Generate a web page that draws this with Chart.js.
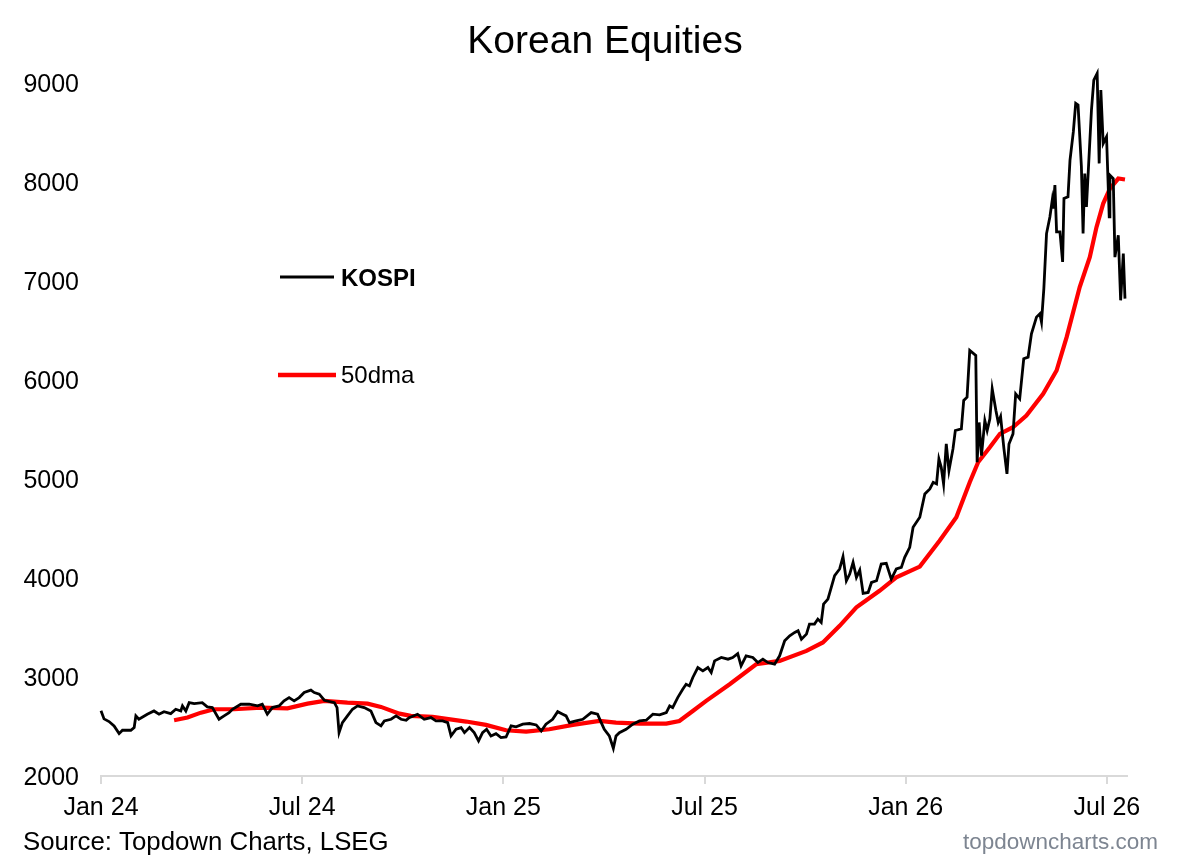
<!DOCTYPE html>
<html>
<head>
<meta charset="utf-8">
<title>Korean Equities</title>
<script src="https://cdn.jsdelivr.net/npm/chart.js@4.4.1/dist/chart.umd.min.js"></script>
<style>
	html, body { margin: 0; padding: 0; background: #ffffff; }
	#wrap { width: 1185px; height: 862px; }
</style>
</head>
<body>
<div id="wrap"><canvas id="kospi_chart" width="1185" height="862"></canvas></div>
<script>
// x = months since Jan 2024
var tickMonths = [0, 6, 12, 18, 24, 30];
var tickLabels = ['Jan 24', 'Jul 24', 'Jan 25', 'Jul 25', 'Jan 26', 'Jul 26'];
var yTicks = [2000, 3000, 4000, 5000, 6000, 7000, 8000, 9000];

var kospiMonth = [
	0, 0.09, 0.24, 0.39, 0.54, 0.64, 0.89, 0.99, 1.04, 1.13, 1.38, 1.58, 1.73, 1.88, 2.08, 2.23, 2.38, 2.43, 2.53, 2.63,
	2.78, 3.02, 3.17, 3.32, 3.52, 3.67, 3.82, 3.92, 4.17, 4.42, 4.67, 4.81, 4.96, 5.11, 5.31, 5.46, 5.61, 5.76, 5.91, 6.06,
	6.26, 6.36, 6.51, 6.66, 6.96, 7.04, 7.10, 7.20, 7.35, 7.50, 7.65, 7.85, 8.05, 8.20, 8.35, 8.45, 8.65, 8.80, 8.95, 9.10,
	9.19, 9.44, 9.64, 9.84, 9.99, 10.19, 10.34, 10.44, 10.59, 10.74, 10.84, 10.99, 11.13, 11.26, 11.38, 11.50, 11.63, 11.78, 11.93, 12.08,
	12.23, 12.38, 12.58, 12.78, 12.98, 13.13, 13.27, 13.47, 13.62, 13.77, 13.87, 13.97, 14.17, 14.37, 14.62, 14.81, 14.92, 15.01, 15.16, 15.28,
	15.36, 15.46, 15.66, 15.86, 16.06, 16.26, 16.46, 16.66, 16.86, 16.96, 17.05, 17.20, 17.35, 17.45, 17.55, 17.65, 17.80, 17.95, 18.10, 18.20,
	18.30, 18.50, 18.70, 18.84, 18.99, 19.09, 19.24, 19.44, 19.59, 19.74, 19.89, 20.09, 20.24, 20.39, 20.54, 20.69, 20.79, 20.89, 21.04, 21.13,
	21.28, 21.38, 21.48, 21.55, 21.68, 21.78, 21.88, 22.03, 22.13, 22.23, 22.33, 22.43, 22.53, 22.63, 22.73, 22.88, 22.98, 23.13, 23.27, 23.42,
	23.57, 23.72, 23.87, 23.97, 24.12, 24.22, 24.42, 24.57, 24.72, 24.82, 24.92, 24.99, 25.06, 25.13, 25.21, 25.29, 25.41, 25.48, 25.66, 25.73,
	25.83, 25.91, 26.09, 26.13, 26.19, 26.26, 26.36, 26.43, 26.51, 26.58, 26.69, 26.76, 26.83, 26.93, 27.02, 27.08, 27.20, 27.28, 27.40, 27.52,
	27.65, 27.75, 27.90, 28.00, 28.05, 28.12, 28.20, 28.30, 28.37, 28.40, 28.45, 28.50, 28.60, 28.68, 28.72, 28.84, 28.90, 29.00, 29.07, 29.14,
	29.24, 29.29, 29.34, 29.39, 29.54, 29.61, 29.71, 29.77, 29.82, 29.89, 29.99, 30.07, 30.09, 30.19, 30.24, 30.34, 30.41, 30.49, 30.54
];
var kospiValue = [
	2660, 2577, 2550, 2505, 2428, 2462, 2462, 2490, 2607, 2573, 2624, 2657, 2624, 2650, 2630, 2674, 2657, 2708, 2657, 2741,
	2731, 2741, 2698, 2691, 2573, 2607, 2640, 2674, 2725, 2725, 2708, 2725, 2624, 2691, 2708, 2759, 2792, 2759, 2792, 2843,
	2867, 2843, 2826, 2765, 2741, 2691, 2438, 2539, 2607, 2674, 2708, 2691, 2657, 2539, 2506, 2556, 2573, 2607, 2573, 2563,
	2590, 2624, 2573, 2590, 2556, 2556, 2539, 2405, 2472, 2489, 2438, 2489, 2438, 2354, 2438, 2472, 2405, 2428, 2388, 2394,
	2506, 2496, 2523, 2530, 2516, 2455, 2523, 2573, 2650, 2624, 2607, 2539, 2556, 2573, 2640, 2624, 2539, 2472, 2405, 2280,
	2405, 2438, 2472, 2523, 2556, 2563, 2624, 2617, 2640, 2708, 2691, 2792, 2877, 2927, 2910, 2995, 3096, 3062, 3096, 3045,
	3163, 3197, 3180, 3197, 3237, 3113, 3214, 3197, 3146, 3180, 3146, 3129, 3214, 3366, 3416, 3450, 3467, 3382, 3433, 3534,
	3534, 3585, 3551, 3737, 3787, 3905, 4023, 4091, 4215, 3972, 4040, 4158, 4006, 4080, 3844, 3854, 3955, 3972, 4141, 4148,
	3989, 4091, 4107, 4208, 4310, 4512, 4613, 4849, 4900, 4967, 4950, 5203, 5118, 4950, 5354, 5085, 5304, 5490, 5506, 5793,
	5827, 6299, 6248, 5169, 5571, 5237, 5591, 5490, 5608, 5911, 5692, 5571, 5631, 5304, 5051, 5354, 5456, 5860, 5810, 6214,
	6231, 6467, 6635, 6669, 6585, 6922, 7479, 7647, 7816, 7732, 7968, 7496, 7496, 7192, 7833, 7850, 8221, 8508, 8795, 8778,
	8154, 7479, 8086, 7749, 8727, 9030, 9097, 8188, 8929, 8389, 8457, 7647, 8069, 8035, 7241, 7462, 6805, 7276, 6822
];

var dmaMonth = [
	2.18, 2.58, 2.98, 3.37, 3.97, 4.77, 5.56, 6.16, 6.66, 7.35, 7.95, 8.35, 8.90, 9.24, 9.89, 10.89, 11.48, 12.08, 12.68, 13.37,
	14.07, 14.87, 15.36, 16.06, 16.86, 17.25, 17.65, 18.05, 18.75, 19.54, 20.24, 21.04, 21.53, 22.03, 22.53, 23.22, 23.72, 24.42, 25.01, 25.51,
	25.91, 26.16, 26.51, 26.81, 27.20, 27.60, 28.10, 28.50, 28.80, 29.19, 29.49, 29.69, 29.89, 30.09, 30.34, 30.54
];
var dmaValue = [
	2563, 2590, 2640, 2674, 2674, 2691, 2684, 2731, 2759, 2741, 2731, 2698, 2630, 2607, 2597, 2550, 2516, 2462, 2449, 2472,
	2516, 2556, 2539, 2530, 2530, 2556, 2657, 2759, 2927, 3129, 3163, 3264, 3349, 3517, 3703, 3871, 4006, 4115, 4377, 4613,
	4967, 5169, 5320, 5456, 5523, 5641, 5860, 6096, 6433, 6939, 7241, 7544, 7782, 7934, 8035, 8025
];

function toPoints(xs, ys) {
	var pts = [];
	for (var i = 0; i < xs.length; i++) {
		pts.push({ x: xs[i], y: ys[i] });
	}
	return pts;
}

var FONT = "'Liberation Sans', Arial, sans-serif";

// titles, legend and footer are drawn straight on the canvas
var textPlugin = {
	id: 'textPlugin',
	afterDraw: function (chart) {
		var ctx = chart.ctx;
		ctx.save();
		ctx.textBaseline = 'alphabetic';

		ctx.fillStyle = '#000000';
		ctx.font = '39px ' + FONT;
		ctx.textAlign = 'center';
		ctx.fillText('Korean Equities', 605, 53);

		ctx.font = '25.8px ' + FONT;
		ctx.textAlign = 'left';
		ctx.fillText('Source: Topdown Charts, LSEG', 23, 850);

		ctx.fillStyle = '#7d8591';
		ctx.font = '22.5px ' + FONT;
		ctx.textAlign = 'right';
		ctx.fillText('topdowncharts.com', 1158, 849);

		// legend
		ctx.lineCap = 'butt';
		ctx.strokeStyle = '#000000';
		ctx.lineWidth = 3;
		ctx.beginPath();
		ctx.moveTo(280, 277);
		ctx.lineTo(334, 277);
		ctx.stroke();
		ctx.fillStyle = '#000000';
		ctx.font = 'bold 24px ' + FONT;
		ctx.textAlign = 'left';
		ctx.fillText('KOSPI', 341, 286);

		ctx.strokeStyle = '#ff0000';
		ctx.lineWidth = 4.5;
		ctx.beginPath();
		ctx.moveTo(278, 375);
		ctx.lineTo(336, 375);
		ctx.stroke();
		ctx.font = '24px ' + FONT;
		ctx.fillText('50dma', 341, 383);

		ctx.restore();
	}
};

var chartEl = document.getElementById('kospi_chart');
new Chart(chartEl, {
	type: 'line',
	data: {
		datasets: [{
			label: 'KOSPI',
			data: toPoints(kospiMonth, kospiValue),
			borderColor: '#000000',
			borderWidth: 2.8,
			pointRadius: 0,
			tension: 0,
			clip: false
		}, {
			label: '50dma',
			data: toPoints(dmaMonth, dmaValue),
			borderColor: '#ff0000',
			borderWidth: 4.2,
			pointRadius: 0,
			tension: 0,
			clip: false
		}]
	},
	options: {
		responsive: false,
		animation: false,
		devicePixelRatio: 1,
		layout: { padding: { left: 0, right: 58, top: 83, bottom: 0 } },
		plugins: {
			legend: { display: false },
			title: { display: false },
			tooltip: { enabled: false }
		},
		scales: {
			x: {
				type: 'linear',
				min: 0,
				max: 30.6,
				afterBuildTicks: function (scale) {
					scale.ticks = tickMonths.map(function (m) { return { value: m }; });
				},
				afterFit: function (scale) { scale.height = 86; },
				ticks: {
					autoSkip: false,
					maxRotation: 0,
					color: '#000000',
					padding: 9,
					font: { family: FONT, size: 25 },
					callback: function (value) {
						var i = tickMonths.indexOf(value);
						return i >= 0 ? tickLabels[i] : '';
					}
				},
				grid: {
					drawOnChartArea: false,
					drawTicks: true,
					tickLength: 8,
					color: '#d9d9d9',
					lineWidth: 2
				},
				border: { display: true, color: '#d9d9d9', width: 2 }
			},
			y: {
				type: 'linear',
				min: 2000,
				max: 9000,
				afterBuildTicks: function (scale) {
					scale.ticks = yTicks.map(function (v) { return { value: v }; });
				},
				afterFit: function (scale) { scale.width = 101; },
				ticks: {
					color: '#000000',
					padding: 22,
					labelOffset: 2,
					font: { family: FONT, size: 25 },
					callback: function (value) { return String(value); }
				},
				grid: { display: false, drawTicks: false },
				border: { display: false }
			}
		}
	},
	plugins: [textPlugin]
});
</script>
</body>
</html>
